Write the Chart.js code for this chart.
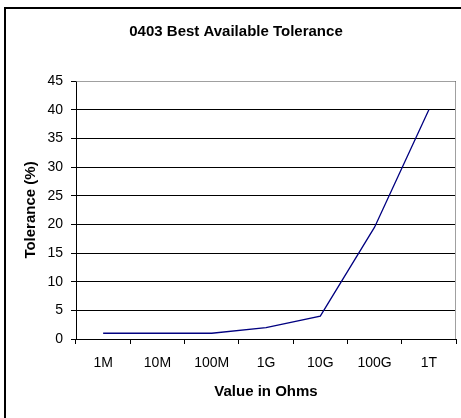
<!DOCTYPE html>
<html>
<head>
<meta charset="utf-8">
<script src="https://cdn.jsdelivr.net/npm/chart.js@4/dist/chart.umd.min.js"></script>
<style>
  html, body { margin: 0; padding: 0; background: #fff; }
  canvas { display: block; }
</style>
</head>
<body>
<canvas id="tolChart" width="461" height="418"></canvas>
<script>
// chart values
var values = ['1M', '10M', '100M', '1G', '10G', '100G', '1T'];
var tolerance = [1, 1, 1, 2, 4, 19.5, 40];
var yMin = 0;
var yMax = 45;
var yStep = 5;

var chartTitle = '0403 Best Available Tolerance';
var xTitle = 'Value in Ohms';
var yTitle = 'Tolerance (%)';

var fontName = '"Liberation Sans", Arial, sans-serif';

// white page + outer frame + grey top/right edge of the plot
const framePlugin = {
    id: 'frame',
    beforeDraw: (chart) => {
        let ctx = chart.ctx;
        ctx.save();
        ctx.fillStyle = '#fff';
        ctx.fillRect(0, 0, chart.width, chart.height);
        ctx.strokeStyle = '#000';
        ctx.lineWidth = 2;
        ctx.strokeRect(5, 8, chart.width + 10, chart.height + 10);
        ctx.restore();
    },
    afterDatasetsDraw: (chart) => {
        let a = chart.chartArea;
        let ctx = chart.ctx;
        ctx.save();
        ctx.strokeStyle = '#a0a0a0';
        ctx.lineWidth = 1;
        ctx.beginPath();
        ctx.moveTo(Math.round(a.left) + 0.5, Math.round(a.top) + 0.5);
        ctx.lineTo(Math.round(a.right) - 0.5, Math.round(a.top) + 0.5);
        ctx.lineTo(Math.round(a.right) - 0.5, Math.round(a.bottom));
        ctx.stroke();
        ctx.restore();
    }
};

var tolChart = new Chart(document.getElementById('tolChart'), {
    type: 'line',
    data: {
        labels: values,
        datasets: [
            {
                label: 'Tolerance',
                data: tolerance,
                borderColor: '#000080',
                borderWidth: 1.3,
                pointRadius: 0,
                tension: 0,
                fill: false
            }
        ]
    },
    options: {
        responsive: false,
        animation: false,
        devicePixelRatio: 1,
        layout: { padding: { left: 16, top: 8, right: 5, bottom: 13 } },
        plugins: {
            legend: { display: false },
            tooltip: { enabled: false },
            title: {
                display: true,
                text: chartTitle,
                color: '#000',
                font: { family: fontName, size: 15, weight: 'bold' },
                padding: { top: 15, bottom: 40 }
            }
        },
        scales: {
            x: {
                offset: true,
                grid: {
                    offset: true,
                    drawOnChartArea: false,
                    drawTicks: true,
                    tickLength: 5,
                    color: '#000'
                },
                border: { color: '#000', width: 1 },
                ticks: {
                    color: '#000',
                    padding: 11,
                    maxRotation: 0,
                    font: { family: fontName, size: 14 }
                },
                title: {
                    display: true,
                    text: xTitle,
                    color: '#000',
                    font: { family: fontName, size: 15, weight: 'bold' },
                    padding: { top: 4, bottom: 4 }
                },
                afterFit: (scale) => { scale.height = 66; }
            },
            y: {
                min: yMin,
                max: yMax,
                grid: {
                    color: '#000',
                    drawTicks: true,
                    tickLength: 5
                },
                border: { color: '#000', width: 1 },
                ticks: {
                    stepSize: yStep,
                    color: '#000',
                    padding: 8,
                    font: { family: fontName, size: 14 }
                },
                title: {
                    display: true,
                    text: yTitle,
                    color: '#000',
                    font: { family: fontName, size: 15, weight: 'bold' },
                    padding: { top: 6, bottom: 4 }
                },
                afterFit: (scale) => { scale.width = 60; }
            }
        }
    },
    plugins: [framePlugin]
});
</script>
</body>
</html>
